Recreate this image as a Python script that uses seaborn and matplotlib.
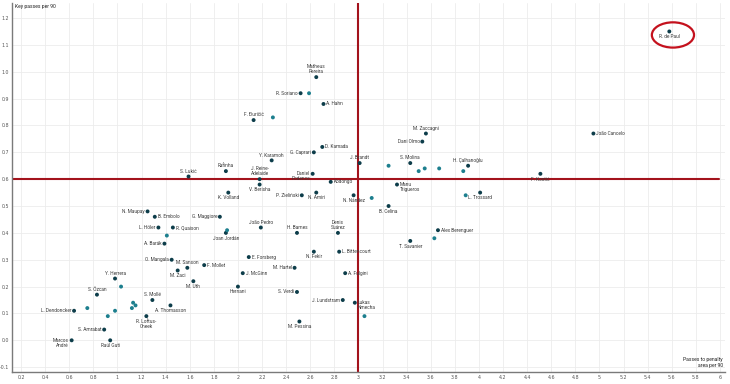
import pandas as pd
import matplotlib.pyplot as plt
import seaborn as sns
from matplotlib.patches import Ellipse

sns.set_theme(style="whitegrid")
plt.rcParams["font.family"] = ["Roboto", "DejaVu Sans"]

# ── Data ─────────────────────────────────────────────────
players = [
    "Matheus\nPereira", "R. Soriano", "", "A. Hahn", "F. Đuričić", "",
    "D. Kamada", "G. Caprari", "Y. Karamoh", "J. Brandt", "",
    "Daniel\nPodence", "J. Reine-\nAdelaide", "V. Berisha", "Kodongo",
    "Rafinha", "S. Lukić", "K. Volland",
    "M. Zaccagni", "Dani Olmo", "João Cancelo", "S. Molina", "", "", "",
    "H. Çalhanoğlu", "", "F. Kostić", "Manu\nTrigueros", "", "L. Trossard", "",
    "R. de Paul",
    "P. Zieliński", "N. Amiri", "N. Nández", "B. Celina", "João Pedro",
    "H. Barnes", "Denis\nSuárez", "T. Savanier", "Alex Berenguer", "",
    "E. Forsberg", "N. Fekir", "L. Bittencourt", "J. McGinn", "M. Hartel",
    "A. Fulgini", "S. Verdi", "Hernani", "J. Lundstram", "Lukas\nNmecha", "",
    "M. Pessina",
    "N. Maupay", "B. Embolo", "G. Maggiore", "L. Höler", "R. Quaison", "",
    "Joan Jordán", "", "A. Barák", "O. Mangala", "M. Sanson", "F. Mollet",
    "M. Zaci", "M. Uth", "Y. Herrera", "", "S. Özcan", "S. Mollé", "", "", "",
    "A. Thomasson", "L. Dendoncker", "", "", "", "R. Loftus-\nCheek",
    "S. Amrabat", "Marcos\nAndré", "Raúl Guti",
]
pass_pen = [
    2.65, 2.52, 2.59, 2.71, 2.13, 2.29,
    2.70, 2.63, 2.28, 3.01, 3.25,
    2.62, 2.18, 2.18, 2.77,
    1.90, 1.59, 1.92,
    3.56, 3.53, 4.95, 3.43, 3.50, 3.55, 3.67,
    3.91, 3.87, 4.51, 3.32, 3.11, 4.01, 3.89,
    5.58,
    2.53, 2.65, 2.96, 3.25, 2.19,
    2.49, 2.83, 3.43, 3.66, 3.63,
    2.09, 2.63, 2.84, 2.04, 2.47,
    2.89, 2.49, 2.00, 2.87, 2.97, 3.05,
    2.51,
    1.25, 1.31, 1.85, 1.34, 1.46, 1.41,
    1.90, 1.91, 1.39, 1.45, 1.58, 1.72,
    1.50, 1.63, 0.98, 1.03, 0.83, 1.29, 1.13, 1.15, 1.12,
    1.44, 0.64, 0.75, 0.98, 0.92, 1.24,
    0.89, 0.62, 0.94,
]
key_passes = [
    0.98, 0.92, 0.92, 0.88, 0.82, 0.83,
    0.72, 0.70, 0.67, 0.66, 0.65,
    0.62, 0.60, 0.58, 0.59,
    0.63, 0.61, 0.55,
    0.77, 0.74, 0.77, 0.66, 0.63, 0.64, 0.64,
    0.65, 0.63, 0.62, 0.58, 0.53, 0.55, 0.54,
    1.15,
    0.54, 0.55, 0.54, 0.50, 0.42,
    0.40, 0.40, 0.37, 0.41, 0.38,
    0.31, 0.33, 0.33, 0.25, 0.27,
    0.25, 0.18, 0.20, 0.15, 0.14, 0.09,
    0.07,
    0.48, 0.46, 0.46, 0.42, 0.42, 0.39,
    0.40, 0.41, 0.36, 0.30, 0.27, 0.28,
    0.26, 0.22, 0.23, 0.20, 0.17, 0.15, 0.14, 0.13, 0.12,
    0.13, 0.11, 0.12, 0.11, 0.09, 0.09,
    0.04, 0.00, 0.00,
]

# where each name sits relative to its dot
left = ["R. Soriano", "G. Caprari", "Dani Olmo", "P. Zieliński", "M. Hartel",
        "S. Verdi", "J. Lundstram", "N. Maupay", "G. Maggiore", "L. Höler",
        "A. Barák", "O. Mangala", "L. Dendoncker", "S. Amrabat"]
right = ["A. Hahn", "D. Kamada", "Kodongo", "João Cancelo", "Alex Berenguer",
         "E. Forsberg", "L. Bittencourt", "J. McGinn", "A. Fulgini",
         "B. Embolo", "R. Quaison", "F. Mollet"]
below = ["V. Berisha", "K. Volland", "F. Kostić", "L. Trossard", "R. de Paul",
         "N. Amiri", "N. Nández", "B. Celina", "T. Savanier", "N. Fekir",
         "Hernani", "M. Pessina", "Joan Jordán", "M. Zaci", "M. Uth",
         "A. Thomasson", "R. Loftus-\nCheek", "Raúl Guti"]
right_low = ["Manu\nTrigueros", "Lukas\nNmecha"]
left_low = ["Daniel\nPodence", "Marcos\nAndré"]

df = pd.DataFrame({"player": players, "pen": pass_pen, "kp": key_passes})
df["named"] = df["player"] != ""

# ── Plot ─────────────────────────────────────────────────
fig = plt.figure(figsize=(7.3, 3.84), dpi=100)
ax = fig.add_axes([12 / 730, 12 / 384, 713 / 730, 369 / 384])

ax.axvline(3.0, color="#a3131c", lw=1.5, zorder=1)
ax.axhline(0.6, color="#a3131c", lw=1.5, xmax=0.991, zorder=1)

sns.scatterplot(data=df, x="pen", y="kp", hue="named",
                palette={True: "#0d3d4a", False: "#1d7f8e"},
                s=8, linewidth=0, legend=False, ax=ax, zorder=3)

for _, r in df[df["named"]].iterrows():
    n = r["player"]
    if n in left:
        off, ha, va = (-2, 0), "right", "center"
    elif n in right:
        off, ha, va = (2, 0), "left", "center"
    elif n in below:
        off, ha, va = (0, -2), "center", "top"
    elif n in right_low:
        off, ha, va = (2, 2), "left", "top"
    elif n in left_low:
        off, ha, va = (-2, 2), "right", "top"
    else:
        off, ha, va = (0, 2), "center", "bottom"
    ax.annotate(n, (r["pen"], r["kp"]), xytext=off, textcoords="offset points",
                ha=ha, va=va, fontsize=3.4, color="#3a3a3a", linespacing=1.1,
                zorder=4)

ax.add_patch(Ellipse((5.61, 1.137), 0.35, 0.094, fill=False,
                     edgecolor="#c4111d", lw=1.6, zorder=5))

ax.set_xlim(0.125, 6.042)
ax.set_ylim(-0.118, 1.256)
xt = [round(0.2 * i, 1) for i in range(1, 31)]
ax.set_xticks(xt)
ax.set_xticklabels([f"{v:g}" for v in xt], family="DejaVu Sans")
yt = [round(-0.1 + 0.1 * i, 1) for i in range(14)]
ax.set_yticks(yt)
ax.set_yticklabels([f"{v:.1f}" for v in yt], family="DejaVu Sans")
ax.tick_params(axis="both", labelsize=3.4, labelcolor="#555555", length=0, pad=2)
ax.grid(color="#ececec", lw=0.6)
ax.set_xlabel("")
ax.set_ylabel("")

for side in ["top", "right"]:
    ax.spines[side].set_visible(False)
for side in ["left", "bottom"]:
    ax.spines[side].set_color("#7a7a7a")
    ax.spines[side].set_linewidth(1.0)

ax.text(0.004, 0.998, "Key passes per 90", transform=ax.transAxes,
        ha="left", va="top", fontsize=3.6, color="#222222")
ax.text(0.997, 0.012, "Passes to penalty\narea per 90", transform=ax.transAxes,
        ha="right", va="bottom", fontsize=3.6, color="#222222", linespacing=1.2)

plt.savefig("out.png", dpi=100)
